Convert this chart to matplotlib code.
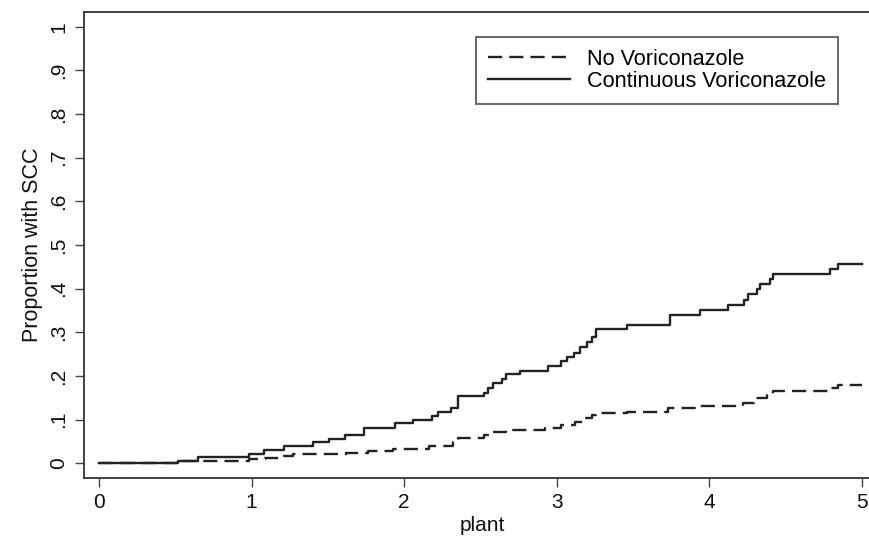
import matplotlib
matplotlib.use("Agg")
import matplotlib.pyplot as plt

plt.rcParams['font.family'] = ['Liberation Sans', 'DejaVu Sans']

# Step times (years) and cumulative proportion with SCC
t_cont = [0, 0.52, 0.65, 0.98, 1.08, 1.21, 1.40, 1.51, 1.61, 1.74, 1.94, 2.06, 2.18, 2.22,
          2.31, 2.35, 2.52, 2.55, 2.58, 2.64, 2.67, 2.76, 2.94, 3.03, 3.07, 3.11, 3.15, 3.20,
          3.23, 3.26, 3.46, 3.74, 3.94, 4.12, 4.23, 4.25, 4.31, 4.33, 4.40, 4.42, 4.79, 4.84, 5.0]
p_cont = [0, 0.005, 0.014, 0.021, 0.030, 0.039, 0.048, 0.055, 0.064, 0.080, 0.092, 0.100, 0.108,
          0.117, 0.126, 0.154, 0.160, 0.172, 0.183, 0.193, 0.204, 0.211, 0.222, 0.234, 0.243,
          0.252, 0.266, 0.278, 0.289, 0.307, 0.317, 0.340, 0.351, 0.362, 0.374, 0.387, 0.399,
          0.410, 0.422, 0.433, 0.445, 0.456, 0.456]

t_none = [0, 0.52, 0.98, 1.09, 1.21, 1.27, 1.62, 1.76, 1.93, 2.16, 2.32, 2.35, 2.52, 2.57, 2.67,
          2.92, 3.03, 3.12, 3.17, 3.23, 3.26, 3.46, 3.73, 3.93, 4.22, 4.29, 4.38, 4.42, 4.79, 4.84, 5.0]
p_none = [0, 0.005, 0.009, 0.012, 0.016, 0.020, 0.023, 0.027, 0.032, 0.039, 0.048, 0.057, 0.064,
          0.071, 0.076, 0.080, 0.087, 0.094, 0.103, 0.110, 0.115, 0.117, 0.126, 0.131, 0.138,
          0.149, 0.158, 0.165, 0.172, 0.179, 0.179]

labels = ["No Voriconazole", "Continuous Voriconazole"]
x_ticks = [0, 1, 2, 3, 4, 5]
y_ticks = [0, 0.1, 0.2, 0.3, 0.4, 0.5, 0.6, 0.7, 0.8, 0.9, 1.0]
y_ticklabels = ["0", ".1", ".2", ".3", ".4", ".5", ".6", ".7", ".8", ".9", "1"]

W, H = 869, 537
fig = plt.figure(figsize=(W / 100, H / 100), dpi=100)
left_px, top_px, bottom_px = 84, 12, 478
xmin, xmax = -0.098, 5.12
px_per_unit = (862 - 99) / 5.0
width_px = (xmax - xmin) * px_per_unit
ax = fig.add_axes([left_px / W, (H - bottom_px) / H, width_px / W, (bottom_px - top_px) / H])

line_color = '#222222'
ax.plot(t_none, p_none, drawstyle='steps-post', color=line_color, lw=1.7,
        linestyle=(0, (6, 3)), label=labels[0])
ax.plot(t_cont, p_cont, drawstyle='steps-post', color=line_color, lw=1.7,
        linestyle='-', label=labels[1])

ax.set_xlim(xmin, xmax)
ax.set_ylim(-0.034, 1.034)
ax.set_xticks(x_ticks)
ax.set_xticklabels([str(v) for v in x_ticks])
ax.set_yticks(y_ticks)
ax.set_yticklabels(y_ticklabels, rotation=90, va='center')

ax.tick_params(axis='both', direction='out', length=6.5, width=1, colors='#444444',
               labelsize=15, labelcolor='#111111')
ax.tick_params(axis='x', pad=4)
ax.tick_params(axis='y', pad=5)

for s in ['left', 'bottom', 'top']:
    ax.spines[s].set_linewidth(1.3)
    ax.spines[s].set_color('#333333')
ax.spines['right'].set_visible(False)

ax.set_xlabel("plant", fontsize=15, labelpad=3, color='#111111')
ax.set_ylabel("Proportion with SCC", fontsize=15.5, labelpad=4, color='#111111')

leg = ax.legend(loc='upper left', bbox_to_anchor=(476 / W, 1 - 37 / H),
                bbox_transform=fig.transFigure, fontsize=15.6, frameon=True,
                fancybox=False, edgecolor='#333333', handlelength=3.8,
                handletextpad=0.78, labelspacing=0.05, borderpad=0.55,
                borderaxespad=0)
leg.get_frame().set_linewidth(1.3)

fig.savefig("out.png", dpi=100, facecolor='white')
